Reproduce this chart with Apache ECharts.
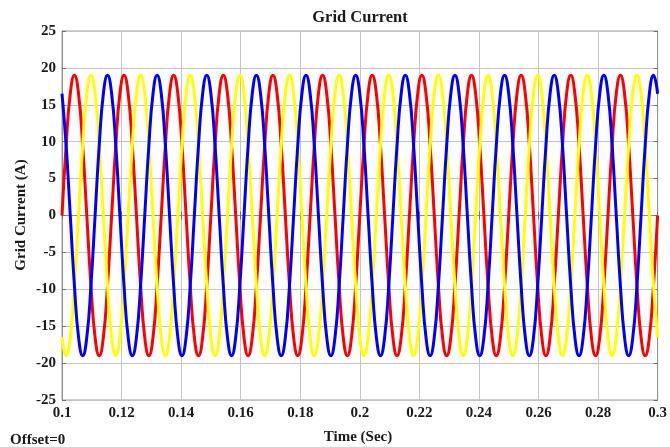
<!DOCTYPE html>
<html>
<head>
<meta charset="utf-8">
<script src="https://cdn.jsdelivr.net/npm/echarts@6/dist/echarts.min.js"></script>
<style>
html,body{margin:0;padding:0;background:#fff;}
#chart{width:670px;height:447px;}
</style>
</head>
<body>
<div id="chart"></div>
<script>
// Time samples (s)
var time = [
0.1, 0.10139, 0.10278, 0.10417, 0.10556, 0.10694, 0.10833, 0.10972, 0.11111, 0.1125, 0.11389, 0.11528,
0.11667, 0.11806, 0.11944, 0.12083, 0.12222, 0.12361, 0.125, 0.12639, 0.12778, 0.12917, 0.13056, 0.13194,
0.13333, 0.13472, 0.13611, 0.1375, 0.13889, 0.14028, 0.14167, 0.14306, 0.14444, 0.14583, 0.14722, 0.14861,
0.15, 0.15139, 0.15278, 0.15417, 0.15556, 0.15694, 0.15833, 0.15972, 0.16111, 0.1625, 0.16389, 0.16528,
0.16667, 0.16806, 0.16944, 0.17083, 0.17222, 0.17361, 0.175, 0.17639, 0.17778, 0.17917, 0.18056, 0.18194,
0.18333, 0.18472, 0.18611, 0.1875, 0.18889, 0.19028, 0.19167, 0.19306, 0.19444, 0.19583, 0.19722, 0.19861,
0.2, 0.20139, 0.20278, 0.20417, 0.20556, 0.20694, 0.20833, 0.20972, 0.21111, 0.2125, 0.21389, 0.21528,
0.21667, 0.21806, 0.21944, 0.22083, 0.22222, 0.22361, 0.225, 0.22639, 0.22778, 0.22917, 0.23056, 0.23194,
0.23333, 0.23472, 0.23611, 0.2375, 0.23889, 0.24028, 0.24167, 0.24306, 0.24444, 0.24583, 0.24722, 0.24861,
0.25, 0.25139, 0.25278, 0.25417, 0.25556, 0.25694, 0.25833, 0.25972, 0.26111, 0.2625, 0.26389, 0.26528,
0.26667, 0.26806, 0.26944, 0.27083, 0.27222, 0.27361, 0.275, 0.27639, 0.27778, 0.27917, 0.28056, 0.28194,
0.28333, 0.28472, 0.28611, 0.2875, 0.28889, 0.29028, 0.29167, 0.29306, 0.29444, 0.29583, 0.29722, 0.29861,
0.3
];
// Phase currents (A)
var phaseRed = [
0, 9.5, 16.5, 19, 16.5, 9.5, 0, -9.5, -16.5, -19, -16.5, -9.5,
0, 9.5, 16.5, 19, 16.5, 9.5, 0, -9.5, -16.5, -19, -16.5, -9.5,
0, 9.5, 16.5, 19, 16.5, 9.5, 0, -9.5, -16.5, -19, -16.5, -9.5,
0, 9.5, 16.5, 19, 16.5, 9.5, 0, -9.5, -16.5, -19, -16.5, -9.5,
0, 9.5, 16.5, 19, 16.5, 9.5, 0, -9.5, -16.5, -19, -16.5, -9.5,
0, 9.5, 16.5, 19, 16.5, 9.5, 0, -9.5, -16.5, -19, -16.5, -9.5,
0, 9.5, 16.5, 19, 16.5, 9.5, 0, -9.5, -16.5, -19, -16.5, -9.5,
0, 9.5, 16.5, 19, 16.5, 9.5, 0, -9.5, -16.5, -19, -16.5, -9.5,
0, 9.5, 16.5, 19, 16.5, 9.5, 0, -9.5, -16.5, -19, -16.5, -9.5,
0, 9.5, 16.5, 19, 16.5, 9.5, 0, -9.5, -16.5, -19, -16.5, -9.5,
0, 9.5, 16.5, 19, 16.5, 9.5, 0, -9.5, -16.5, -19, -16.5, -9.5,
0, 9.5, 16.5, 19, 16.5, 9.5, 0, -9.5, -16.5, -19, -16.5, -9.5,
0
];
var phaseYellow = [
-16.5, -19, -16.5, -9.5, 0, 9.5, 16.5, 19, 16.5, 9.5, 0, -9.5,
-16.5, -19, -16.5, -9.5, 0, 9.5, 16.5, 19, 16.5, 9.5, 0, -9.5,
-16.5, -19, -16.5, -9.5, 0, 9.5, 16.5, 19, 16.5, 9.5, 0, -9.5,
-16.5, -19, -16.5, -9.5, 0, 9.5, 16.5, 19, 16.5, 9.5, 0, -9.5,
-16.5, -19, -16.5, -9.5, 0, 9.5, 16.5, 19, 16.5, 9.5, 0, -9.5,
-16.5, -19, -16.5, -9.5, 0, 9.5, 16.5, 19, 16.5, 9.5, 0, -9.5,
-16.5, -19, -16.5, -9.5, 0, 9.5, 16.5, 19, 16.5, 9.5, 0, -9.5,
-16.5, -19, -16.5, -9.5, 0, 9.5, 16.5, 19, 16.5, 9.5, 0, -9.5,
-16.5, -19, -16.5, -9.5, 0, 9.5, 16.5, 19, 16.5, 9.5, 0, -9.5,
-16.5, -19, -16.5, -9.5, 0, 9.5, 16.5, 19, 16.5, 9.5, 0, -9.5,
-16.5, -19, -16.5, -9.5, 0, 9.5, 16.5, 19, 16.5, 9.5, 0, -9.5,
-16.5, -19, -16.5, -9.5, 0, 9.5, 16.5, 19, 16.5, 9.5, 0, -9.5,
-16.5
];
var phaseBlue = [
16.5, 9.5, 0, -9.5, -16.5, -19, -16.5, -9.5, 0, 9.5, 16.5, 19,
16.5, 9.5, 0, -9.5, -16.5, -19, -16.5, -9.5, 0, 9.5, 16.5, 19,
16.5, 9.5, 0, -9.5, -16.5, -19, -16.5, -9.5, 0, 9.5, 16.5, 19,
16.5, 9.5, 0, -9.5, -16.5, -19, -16.5, -9.5, 0, 9.5, 16.5, 19,
16.5, 9.5, 0, -9.5, -16.5, -19, -16.5, -9.5, 0, 9.5, 16.5, 19,
16.5, 9.5, 0, -9.5, -16.5, -19, -16.5, -9.5, 0, 9.5, 16.5, 19,
16.5, 9.5, 0, -9.5, -16.5, -19, -16.5, -9.5, 0, 9.5, 16.5, 19,
16.5, 9.5, 0, -9.5, -16.5, -19, -16.5, -9.5, 0, 9.5, 16.5, 19,
16.5, 9.5, 0, -9.5, -16.5, -19, -16.5, -9.5, 0, 9.5, 16.5, 19,
16.5, 9.5, 0, -9.5, -16.5, -19, -16.5, -9.5, 0, 9.5, 16.5, 19,
16.5, 9.5, 0, -9.5, -16.5, -19, -16.5, -9.5, 0, 9.5, 16.5, 19,
16.5, 9.5, 0, -9.5, -16.5, -19, -16.5, -9.5, 0, 9.5, 16.5, 19,
16.5
];
var titleText = 'Grid Current';
var xAxisTitle = 'Time (Sec)';
var yAxisTitle = 'Grid Current (A)';
var offsetText = 'Offset=0';

function pairs(vals) {
  return vals.map(function (v, i) { return [time[i], v]; });
}

var font = '"Liberation Serif", "Times New Roman", serif';
var chart = echarts.init(document.getElementById('chart'));
var seriesDefs = [
  { name: 'Phase A', data: phaseRed, color: '#ff0000' },
  { name: 'Phase B', data: phaseYellow, color: '#ffff00' },
  { name: 'Phase C', data: phaseBlue, color: '#0000ff' }
];
var tickStyle = { show: true, inside: true, length: 4, lineStyle: { color: '#707070' } };
var gridLine = { show: true, lineStyle: { color: '#c4c4c4', width: 1 } };
var labelStyle = { color: '#1a1a1a', fontFamily: font, fontWeight: 'bold', fontSize: 15, margin: 6 };
chart.setOption({
  animation: false,
  backgroundColor: '#ffffff',
  grid: { left: 62, right: 12, top: 31, bottom: 47, show: true, borderColor: '#a0a0a0', borderWidth: 1 },
  xAxis: [{
    type: 'value', min: 0.1, max: 0.3, interval: 0.02,
    axisLine: { show: true, lineStyle: { color: '#909090' } },
    axisTick: tickStyle,
    splitLine: gridLine,
    axisLabel: Object.assign({}, labelStyle, {
      formatter: function (v) { return String(+v.toFixed(2)); }
    })
  }, {
    type: 'value', position: 'top', min: 0.1, max: 0.3, interval: 0.02,
    axisLine: { show: true, lineStyle: { color: '#909090' } },
    axisTick: tickStyle, splitLine: { show: false }, axisLabel: { show: false }
  }],
  yAxis: [{
    type: 'value', min: -25, max: 25, interval: 5,
    axisLine: { show: true, lineStyle: { color: '#909090' } },
    axisTick: tickStyle,
    splitLine: gridLine,
    axisLabel: labelStyle
  }, {
    type: 'value', position: 'right', min: -25, max: 25, interval: 5,
    axisLine: { show: true, lineStyle: { color: '#909090' } },
    axisTick: tickStyle, splitLine: { show: false }, axisLabel: { show: false }
  }],
  graphic: [
    { type: 'text', style: { text: titleText, x: 360, y: 18, textAlign: 'center', textVerticalAlign: 'middle', font: 'bold 16.5px ' + font, fill: '#1a1a1a' } },
    { type: 'text', style: { text: xAxisTitle, x: 358, y: 437, textAlign: 'center', textVerticalAlign: 'middle', font: 'bold 15px ' + font, fill: '#1a1a1a' } },
    { type: 'text', style: { text: offsetText, x: 10, y: 440, textAlign: 'left', textVerticalAlign: 'middle', font: 'bold 15px ' + font, fill: '#1a1a1a' } },
    { type: 'text', rotation: Math.PI / 2, x: 21, y: 215, style: { text: yAxisTitle, x: 0, y: 0, textAlign: 'center', textVerticalAlign: 'middle', font: 'bold 15px ' + font, fill: '#1a1a1a' } }
  ],
  series: seriesDefs.map(function (s) {
    return {
      name: s.name, type: 'line', data: pairs(s.data), showSymbol: false, smooth: 0.5,
      xAxisIndex: 0, yAxisIndex: 0,
      lineStyle: { color: s.color, width: 3 }, itemStyle: { color: s.color }
    };
  })
});
</script>
</body>
</html>
